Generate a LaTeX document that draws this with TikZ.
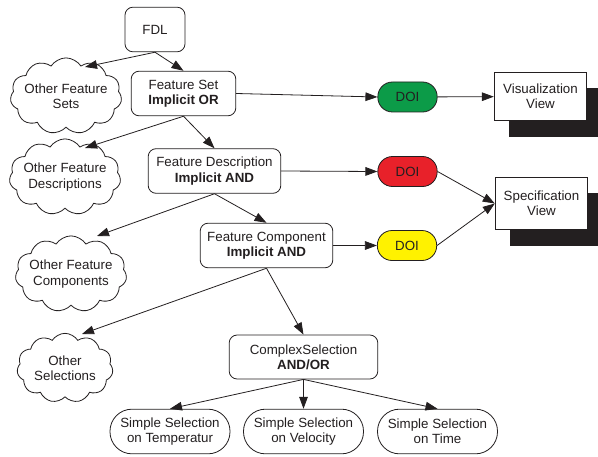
\documentclass[tikz,border=0pt]{standalone}
\usepackage{fontspec}
\setsansfont{Liberation Sans}
\usepackage{tikz}
\usetikzlibrary{arrows.meta, shapes.symbols, shadows, calc}
\definecolor{Ink}{HTML}{231F20}
\definecolor{DoiGreen}{HTML}{0C9B48}
\definecolor{DoiRed}{HTML}{E8212A}
\definecolor{DoiYellow}{HTML}{FFF200}

\begin{document}
\begin{tikzpicture}[
  x=0.75pt, y=-0.75pt,
  font=\sffamily\fontsize{10}{11.5}\selectfont,
  every node/.style={draw=Ink, line width=0.6pt, align=center, inner sep=0pt, text=Ink},
  level/.style={rounded corners=6pt, fill=white, minimum height=33.5pt},
  other/.style={cloud, cloud puffs=11, cloud puff arc=115, aspect=1.7, fill=white, inner xsep=-3pt, inner ysep=-7pt},
  doi/.style={rounded corners=11pt, minimum width=44.5pt, minimum height=22.5pt},
  leaf/.style={rounded corners=16.5pt, fill=white, minimum width=90pt, minimum height=33.5pt},
  view/.style={fill=white, minimum width=69.5pt, drop shadow={shadow xshift=11pt, shadow yshift=-12pt, fill=Ink, opacity=1}},
  arrow/.style={-{Triangle[length=9pt, width=6.5pt]}, line width=0.6pt, draw=Ink}
]
\useasboundingbox (0,0) rectangle (598,456);

\node[level, minimum width=45pt] (fdl) at (155,29.5) {FDL};
\node[level, minimum width=78.5pt] (fset) at (183.5,93.5) {Feature Set\\\textbf{Implicit OR}};
\node[level, minimum width=99.5pt] (fdesc) at (214.5,171) {Feature Description\\\textbf{Implicit AND}};
\node[level, minimum width=99.5pt] (fcomp) at (266.5,245.5) {Feature Component\\\textbf{Implicit AND}};
\node[level, minimum width=111.5pt, minimum height=33pt] (csel) at (303.5,357) {ComplexSelection\\\textbf{AND/OR}};

\node[other] (oset) at (66,96) {Other Feature\\Sets};
\node[other] (odesc) at (65,177) {Other Feature\\Descriptions};
\node[other, minimum height=56pt] (ocomp) at (71,274) {Other Feature\\Components};
\node[other, minimum width=72pt, minimum height=52pt] (osel) at (65,368) {Other\\Selections};

\node[leaf] (stemp) at (170,431.5) {Simple Selection\\on Temperatur};
\node[leaf] (svel) at (303.5,431.5) {Simple Selection\\on Velocity};
\node[leaf] (stime) at (437.5,431.5) {Simple Selection\\on Time};

\node[doi, fill=DoiGreen] (doiset) at (407.5,97) {DOI};
\node[doi, fill=DoiRed] (doidesc) at (407.5,171.5) {DOI};
\node[doi, fill=DoiYellow] (doicomp) at (407,245.5) {DOI};

\node[view, minimum height=36.5pt] (vis) at (540.5,96.5) {Visualization\\View};
\node[view, minimum height=39.5pt] (spec) at (541.5,203.5) {Specification\\View};

\draw[arrow] (fdl.south) -- ($(oset.center)+(19,-29)$);
\draw[arrow] (fdl.south) -- (fset.north);
\draw[arrow] (fset.south) -- ($(odesc.center)+(20,-29)$);
\draw[arrow] (fset.south) -- (fdesc.north);
\draw[arrow] (fset.east) -- (doiset.west);
\draw[arrow] (doiset) -- (vis);
\draw[arrow] (fdesc.south) -- ($(ocomp.center)+(26,-38)$);
\draw[arrow] (fdesc.south) -- (fcomp.north);
\draw[arrow] (fdesc.east) -- (doidesc.west);
\draw[arrow] (fcomp.east) -- (doicomp.west);
\draw[arrow] (doidesc.east) -- (spec.west);
\draw[arrow] (doicomp.east) -- (spec.west);
\draw[arrow] (fcomp.south) -- ($(osel.center)+(17,-34)$);
\draw[arrow] (fcomp.south) -- (csel.north);
\draw[arrow] (csel.south) -- (stemp.north);
\draw[arrow] (csel.south) -- (svel.north);
\draw[arrow] (csel.south) -- (stime.north);
\end{tikzpicture}
\end{document}
